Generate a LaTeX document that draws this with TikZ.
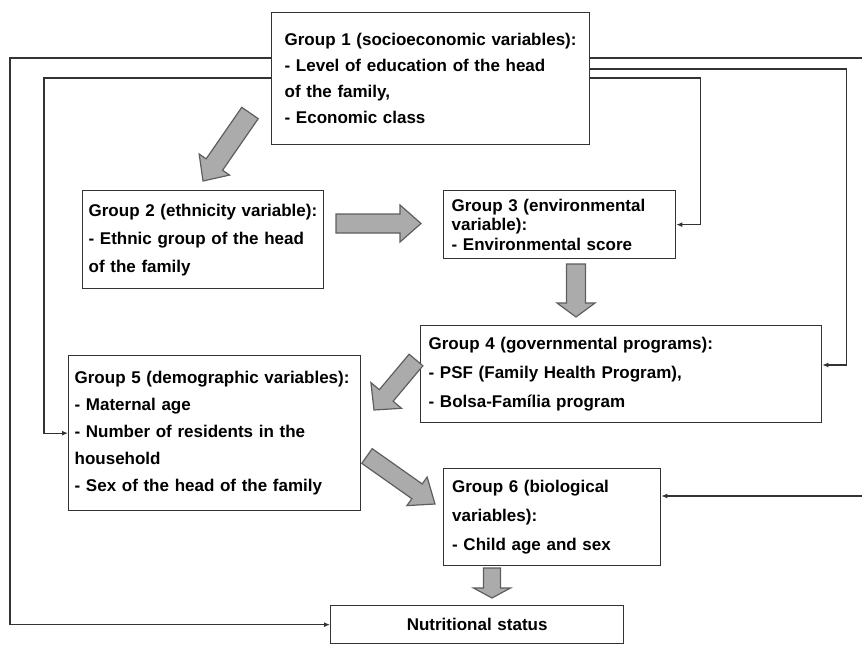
\documentclass[tikz,border=0pt]{standalone}
\usepackage{fontspec}
\setmainfont{Liberation Sans}
\usetikzlibrary{calc,arrows.meta}
\definecolor{boxline}{HTML}{333333}
\definecolor{fatfill}{HTML}{ABABAB}
\definecolor{fatline}{HTML}{5E5E5E}
\tikzset{
  grp/.style={draw=boxline, line width=1.3pt, anchor=north west, align=left,
    inner ysep=0pt, font=\bfseries\fontsize{17}{#1}\selectfont},
  grp/.default=27,
  link/.style={draw=boxline, line width=1.2pt, -{Latex[length=6pt,width=5pt]}},
  fat/.style={draw=fatline, fill=fatfill, line width=1.2pt, line join=miter}
}
\newcommand{\fatarrow}[5]{%
  \coordinate (fatbase) at ($(#2)!#5!(#1)$);
  \draw[fat] ($(#1)!#3!90:(#2)$) -- ($(fatbase)!#3!90:(#2)$) -- ($(fatbase)!#4!90:(#2)$) -- (#2)
    -- ($(fatbase)!#4!-90:(#2)$) -- ($(fatbase)!#3!-90:(#2)$) -- ($(#1)!#3!-90:(#2)$) -- cycle;
}
\begin{document}
\begin{tikzpicture}[x=1pt, y=-1pt]
\useasboundingbox (0,0) rectangle (862,645);
\node[grp=26, text width=292pt, minimum height=132pt, inner xsep=13pt] (g1) at (271,12) {Group 1 (socioeconomic variables):\\- Level of education of the head\\of the family,\\- Economic class};
\node[grp=28, text width=229pt, minimum height=98pt, inner xsep=6pt] (g2) at (82,190) {Group 2 (ethnicity variable):\\- Ethnic group of the head\\of the family};
\node[grp=19.5, text width=216pt, minimum height=68pt, inner xsep=8pt] (g3) at (443,190) {Group 3 (environmental\\variable):\\- Environmental score};
\node[grp=29, text width=385pt, minimum height=97pt, inner xsep=8pt] (g4) at (420,325) {Group 4 (governmental programs):\\- PSF (Family Health Program),\\- Bolsa-Família program};
\node[grp=27, text width=280pt, minimum height=155pt, inner xsep=6pt] (g5) at (68,355) {Group 5 (demographic variables):\\- Maternal age\\- Number of residents in the\\household\\- Sex of the head of the family};
\node[grp=29, text width=200pt, minimum height=97pt, inner xsep=8.5pt] (g6) at (443,468) {Group 6 (biological\\variables):\\- Child age and sex};
\node[grp=20, text width=277pt, minimum height=38pt, inner xsep=8pt, align=center] (ns) at (330,605) {Nutritional status};
\coordinate (a1t) at (250,113);
\coordinate (a1h) at (203,181);
\coordinate (a2t) at (336,223.5);
\coordinate (a2h) at (421,223.5);
\coordinate (a3t) at (576,264);
\coordinate (a3h) at (576,317);
\coordinate (a4t) at (416,360);
\coordinate (a4h) at (374,410);
\coordinate (a5t) at (367,456);
\coordinate (a5h) at (435,504);
\coordinate (a6t) at (492,568);
\coordinate (a6h) at (492,598);
\fatarrow{a1t}{a1h}{10pt}{18.5pt}{20pt}
\fatarrow{a2t}{a2h}{9.5pt}{18.5pt}{21pt}
\fatarrow{a3t}{a3h}{9.5pt}{19pt}{14pt}
\fatarrow{a4t}{a4h}{9pt}{20pt}{19pt}
\fatarrow{a5t}{a5h}{9pt}{17.5pt}{22pt}
\fatarrow{a6t}{a6h}{8.5pt}{18.5pt}{10pt}
\draw[link] ([yshift=-46pt]g1.north west) -- ++(-261,0) |- (ns.west);
\draw[link] ([yshift=-66pt]g1.north west) -- ++(-227,0) |- (g5.west);
\draw[link] ([yshift=-46pt]g1.north east) -- ++(279,0) |- ([yshift=-28pt]g6.north east);
\draw[link] ([yshift=-57pt]g1.north east) -- ++(256,0) |- ([yshift=-40pt]g4.north east);
\draw[link] ([yshift=-66pt]g1.north east) -- ++(110,0) |- (g3.east);
\end{tikzpicture}
\end{document}
